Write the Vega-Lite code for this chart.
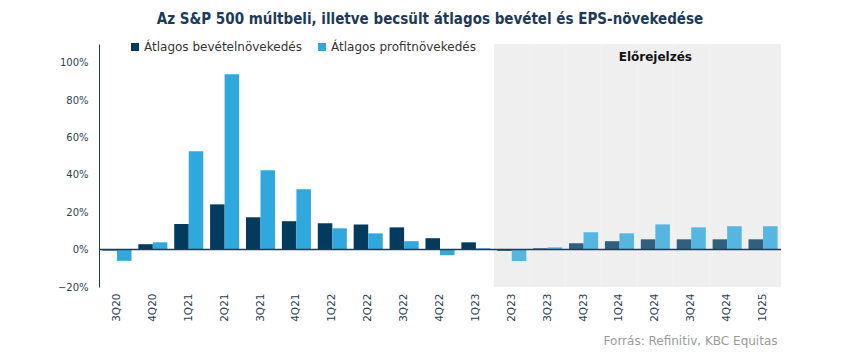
{
  "$schema": "https://vega.github.io/schema/vega-lite/v6.json",
  "autosize": "none",
  "width": 682,
  "height": 243,
  "padding": {"left": 99, "top": 44, "right": 69, "bottom": 66},
  "background": "white",
  "config": {
    "font": "DejaVu Sans",
    "view": {"stroke": null},
    "axis": {"labelFont": "DejaVu Sans", "titleFont": "DejaVu Sans"}
  },
  "title": {
    "text": "Az S&P 500 múltbeli, illetve becsült átlagos bevétel és EPS-növekedése",
    "font": "DejaVu Sans Condensed",
    "fontSize": 15,
    "fontWeight": "bold",
    "color": "#1c3a5a",
    "anchor": "middle",
    "dx": -10,
    "offset": 14
  },
  "data": {
    "values": [
      {"q": "3Q20", "forecast": false, "Átlagos bevételnövekedés": -0.005, "Átlagos profitnövekedés": -0.060},
      {"q": "4Q20", "forecast": false, "Átlagos bevételnövekedés": 0.029, "Átlagos profitnövekedés": 0.039},
      {"q": "1Q21", "forecast": false, "Átlagos bevételnövekedés": 0.137, "Átlagos profitnövekedés": 0.526},
      {"q": "2Q21", "forecast": false, "Átlagos bevételnövekedés": 0.242, "Átlagos profitnövekedés": 0.938},
      {"q": "3Q21", "forecast": false, "Átlagos bevételnövekedés": 0.173, "Átlagos profitnövekedés": 0.424},
      {"q": "4Q21", "forecast": false, "Átlagos bevételnövekedés": 0.152, "Átlagos profitnövekedés": 0.323},
      {"q": "1Q22", "forecast": false, "Átlagos bevételnövekedés": 0.141, "Átlagos profitnövekedés": 0.114},
      {"q": "2Q22", "forecast": false, "Átlagos bevételnövekedés": 0.135, "Átlagos profitnövekedés": 0.087},
      {"q": "3Q22", "forecast": false, "Átlagos bevételnövekedés": 0.119, "Átlagos profitnövekedés": 0.045},
      {"q": "4Q22", "forecast": false, "Átlagos bevételnövekedés": 0.061, "Átlagos profitnövekedés": -0.030},
      {"q": "1Q23", "forecast": false, "Átlagos bevételnövekedés": 0.039, "Átlagos profitnövekedés": 0.007},
      {"q": "2Q23", "forecast": true, "Átlagos bevételnövekedés": -0.007, "Átlagos profitnövekedés": -0.061},
      {"q": "3Q23", "forecast": true, "Átlagos bevételnövekedés": 0.007, "Átlagos profitnövekedés": 0.012},
      {"q": "4Q23", "forecast": true, "Átlagos bevételnövekedés": 0.034, "Átlagos profitnövekedés": 0.093},
      {"q": "1Q24", "forecast": true, "Átlagos bevételnövekedés": 0.045, "Átlagos profitnövekedés": 0.087},
      {"q": "2Q24", "forecast": true, "Átlagos bevételnövekedés": 0.055, "Átlagos profitnövekedés": 0.135},
      {"q": "3Q24", "forecast": true, "Átlagos bevételnövekedés": 0.055, "Átlagos profitnövekedés": 0.119},
      {"q": "4Q24", "forecast": true, "Átlagos bevételnövekedés": 0.055, "Átlagos profitnövekedés": 0.125},
      {"q": "1Q25", "forecast": true, "Átlagos bevételnövekedés": 0.055, "Átlagos profitnövekedés": 0.125}
    ]
  },
  "resolve": {"scale": {"x": "shared"}},
  "layer": [
    {
      "transform": [{"filter": "datum.forecast"}],
      "mark": {"type": "bar", "color": "#efefef"},
      "encoding": {
        "x": {"field": "q", "type": "nominal", "sort": null},
        "y": {"datum": 1.1, "type": "quantitative"},
        "y2": {"datum": -0.2}
      }
    },
    {
      "transform": [{"fold": ["Átlagos bevételnövekedés", "Átlagos profitnövekedés"], "as": ["series", "value"]}],
      "mark": {"type": "bar"},
      "encoding": {
        "x": {
          "field": "q", "type": "nominal", "sort": null,
          "scale": {"domain": ["3Q20","4Q20","1Q21","2Q21","3Q21","4Q21","1Q22","2Q22","3Q22","4Q22","1Q23","2Q23","3Q23","4Q23","1Q24","2Q24","3Q24","4Q24","1Q25"], "paddingInner": 0, "paddingOuter": 0},
          "axis": {
            "title": "Forrás: Refinitiv, KBC Equitas",
            "titleAnchor": "end",
            "titleFontSize": 12,
            "titleFontWeight": "normal",
            "titleColor": "#9a9a9a",
            "titlePadding": 14,
            "titleX": 678,
            "labelAngle": 270,
            "labelFontSize": 10.5,
            "labelColor": "#2b3f55",
            "labelPadding": 6,
            "domain": false,
            "ticks": false,
            "grid": false
          }
        },
        "xOffset": {"field": "series", "type": "nominal", "scale": {"paddingInner": 0, "paddingOuter": 0.235}},
        "y": {
          "field": "value", "type": "quantitative",
          "scale": {"domain": [-0.2, 1.1], "nice": false},
          "axis": {
            "title": null,
            "format": ".0%",
            "values": [-0.2, 0, 0.2, 0.4, 0.6, 0.8, 1.0],
            "labelFontSize": 10,
            "labelColor": "#2b3f55",
            "labelPadding": 11,
            "ticks": false,
            "domainColor": "#1c3a5a",
            "gridColor": "#d9d9d9"
          }
        },
        "color": {
          "field": "series", "type": "nominal",
          "scale": {"domain": ["Átlagos bevételnövekedés", "Átlagos profitnövekedés"], "range": ["#033b5e", "#2ea8dd"]},
          "legend": {
            "title": null,
            "orient": "none",
            "direction": "horizontal",
            "legendX": 30,
            "legendY": -3,
            "symbolType": "square",
            "symbolSize": 64,
            "labelFontSize": 12,
            "labelColor": "#333333",
            "columnPadding": 14,
            "labelOffset": 3
          }
        },
        "opacity": {"condition": {"test": "datum.forecast", "value": 0.8}, "value": 1}
      }
    },
    {
      "data": {"values": [{}]},
      "mark": {"type": "rule", "color": "#1c3a5a", "strokeWidth": 1.5},
      "encoding": {"y": {"datum": 0, "type": "quantitative"}}
    },
    {
      "data": {"values": [{}]},
      "mark": {"type": "text", "text": "Előrejelzés", "fontWeight": "bold", "fontSize": 12, "color": "#111111", "baseline": "middle", "align": "center"},
      "encoding": {
        "x": {"datum": "2Q24", "type": "nominal"},
        "y": {"datum": 1.03, "type": "quantitative"}
      }
    }
  ]
}
